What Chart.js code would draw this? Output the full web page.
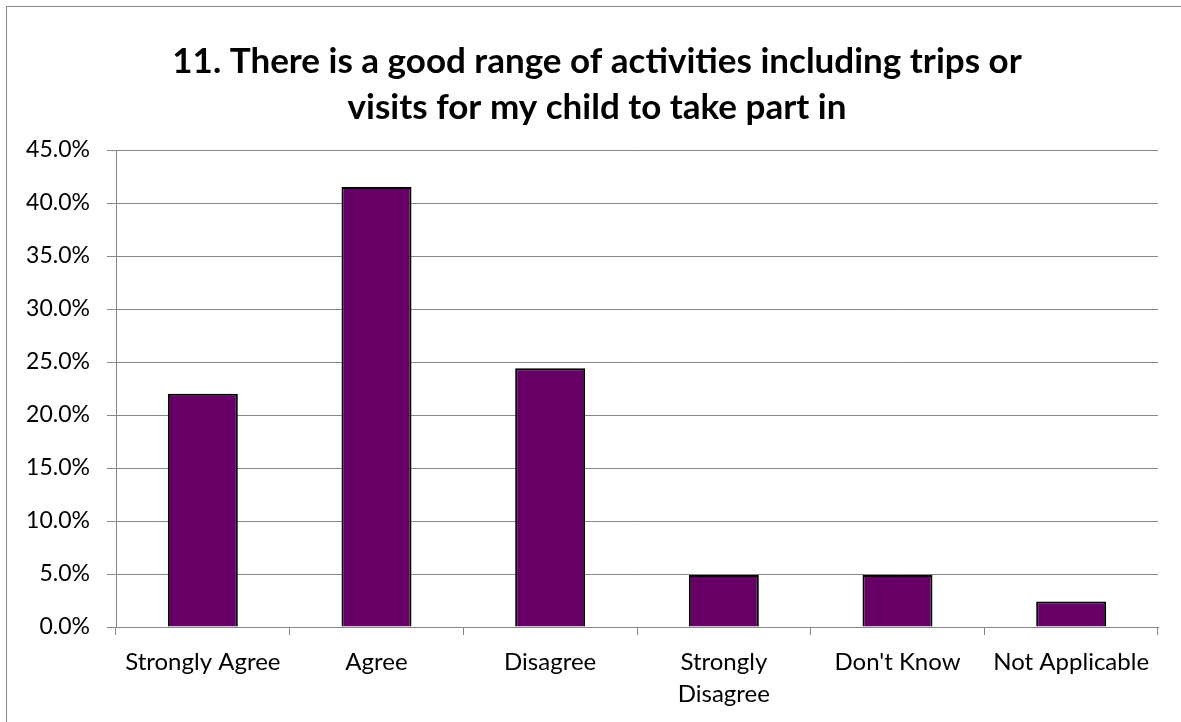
<!DOCTYPE html>
<html>
<head>
<meta charset="utf-8">
<script src="https://cdn.jsdelivr.net/npm/chart.js@4"></script>
<style>
  html, body { margin: 0; padding: 0; background: #fff; overflow: hidden; }
  #wrap { position: relative; width: 1181px; height: 722px; }
  #frame { position: absolute; left: 6px; top: 6px; width: 1200px; height: 740px; border: 1px solid #868686; box-sizing: border-box; }
  #chart { position: absolute; left: 0; top: 0; }
</style>
</head>
<body>
<div id="wrap">
  <div id="frame"></div>
  <canvas id="chart" width="1181" height="722"></canvas>
</div>
<script>
// survey question 11, share of responses
const categories = ['Strongly Agree', 'Agree', 'Disagree', ['Strongly', 'Disagree'], "Don't Know", 'Not Applicable'];
const percentages = [22.0, 41.5, 24.4, 4.9, 4.9, 2.4];
const titleLines = ['11. There is a good range of activities including trips or', 'visits for my child to take part in'];
const yTicks = [0, 5, 10, 15, 20, 25, 30, 35, 40, 45];

const gridGrey = '#868686';
const font = 'Lato, "Open Sans", sans-serif';

// centre the title over the whole frame rather than the padded canvas
const titleCentre = {
    id: 'titleCentre',
    afterLayout: function(chart) {
        const t = chart.titleBlock;
        if (t) { t.left = 36; t.right = 1158; }
    }
};

document.addEventListener('DOMContentLoaded', function() {
    const ctx = document.getElementById('chart');

    new Chart(ctx, {
        type: 'bar',
        data: {
            labels: categories,
            datasets: [{
                label: 'Responses',
                data: percentages,
                backgroundColor: '#660066',
                borderColor: '#000000',
                borderWidth: 2,
                barPercentage: 0.403,
                categoryPercentage: 1.0
            }]
        },
        options: {
            responsive: false,
            animation: false,
            layout: {
                padding: { left: 0, right: 23, top: 0, bottom: 0 }
            },
            scales: {
                x: {
                    afterFit: function(scale) { scale.height = 95; },
                    grid: {
                        offset: true,
                        drawOnChartArea: false,
                        drawTicks: true,
                        tickLength: 8,
                        color: gridGrey
                    },
                    border: { display: true, color: gridGrey, width: 1 },
                    ticks: {
                        color: '#000',
                        font: { family: font, size: 24, lineHeight: 1.34 },
                        padding: 11,
                        maxRotation: 0,
                        autoSkip: false
                    }
                },
                y: {
                    min: 0,
                    max: 45,
                    afterFit: function(scale) { scale.width = 116; },
                    afterBuildTicks: function(scale) {
                        scale.ticks = yTicks.map(function(v) { return { value: v }; });
                    },
                    grid: {
                        color: gridGrey,
                        tickLength: 9
                    },
                    border: { display: true, color: gridGrey, width: 1 },
                    ticks: {
                        color: '#000',
                        font: { family: font, size: 23 },
                        padding: 17,
                        callback: function(v) { return v.toFixed(1) + '%'; }
                    }
                }
            },
            plugins: {
                legend: { display: false },
                tooltip: { enabled: false },
                title: {
                    display: true,
                    text: titleLines,
                    color: '#000',
                    font: { family: font, size: 35, weight: 'bold', lineHeight: 1.3 },
                    padding: { top: 39, bottom: 20 }
                }
            }
        },
        plugins: [titleCentre]
    });
});
</script>
</body>
</html>
